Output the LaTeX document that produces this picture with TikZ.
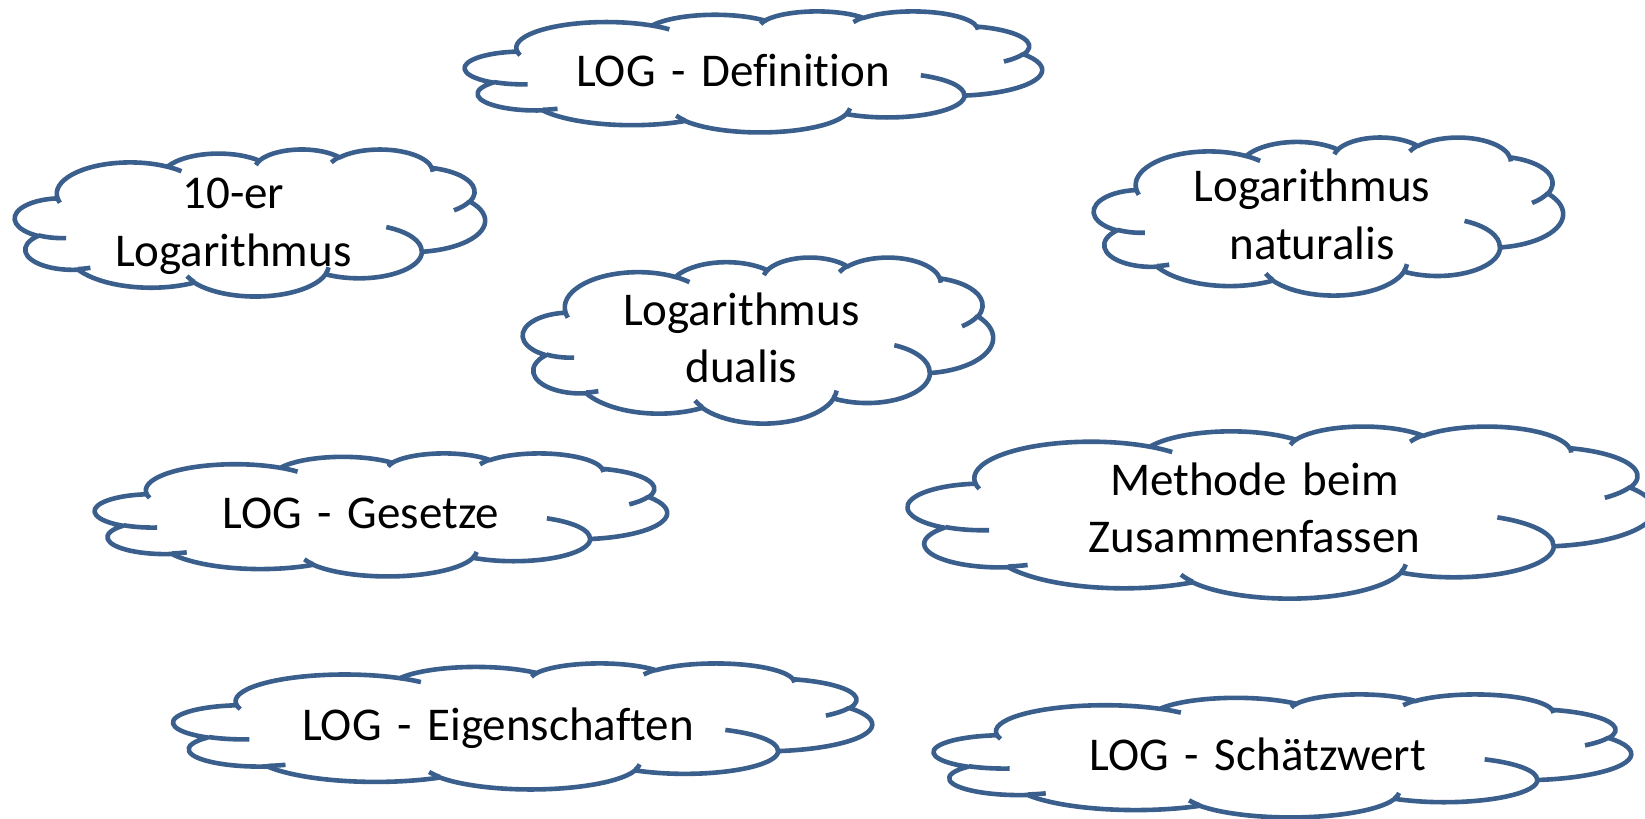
\documentclass[tikz,border=0pt]{standalone}
\usepackage{fontspec}
\setmainfont{Carlito}[Ligatures=NoCommon]
\definecolor{cloudblue}{RGB}{58,95,140}
\newcommand\cloudfont{\fontsize{23.5pt}{28.7pt}\selectfont}

\makeatletter
% Elliptic arc: radii #1,#2 (path units), start angle #3 and sweep #4
% given as visual angles in degrees; converted to parametric angles.
\newcommand\cloudarc[4]{%
  \pgfmathsetmacro\cl@ta{atan2((#1)*sin(#3),(#2)*cos(#3))}%
  \pgfmathsetmacro\cl@tb{atan2((#1)*sin((#3)+(#4)),(#2)*cos((#3)+(#4)))}%
  \pgfmathsetmacro\cl@te{(\cl@ta)+mod((\cl@tb)-(\cl@ta)+720,360)}%
  \pgfpatharcaxes{\cl@ta}{\cl@te}{\pgfpointxy{#1}{0}}{\pgfpointxy{0}{#2}}%
}
\makeatother

% Cloud frame: top-left corner (#1,#2), size #3 x #4; path units 0..432
\newcommand\cloudframe[4]{%
  \pgftransformshift{\pgfpointxy{#1}{#2}}%
  \pgfsetxvec{\pgfpoint{#3*0.5pt/432}{0pt}}%
  \pgfsetyvec{\pgfpoint{0pt}{-#4*0.5pt/432}}%
}

% Closed outline of the cloud
\newcommand\cloudoutline{%
  \pgfpathmoveto{\pgfpointxy{39.00}{143.70}}%
  \cloudarc{67.53}{91.90}{-190.48748}{123.78053}%
  \cloudarc{53.33}{72.67}{-144.10238}{89.94523}%
  \cloudarc{43.65}{59.45}{-145.80792}{99.72302}%
  \cloudarc{48.57}{65.95}{-130.98607}{117.24173}%
  \cloudarc{53.33}{72.73}{-78.70888}{109.02692}%
  \cloudarc{67.75}{92.20}{-46.26725}{130.269}%
  \cloudarc{57.85}{78.67}{0.62502}{114.03333}%
  \cloudarc{67.52}{92.15}{22.4516}{115.17255}%
  \cloudarc{77.20}{105.43}{66.24263}{75.71102}%
  \cloudarc{43.60}{59.18}{-274.94208}{146.73557}%
  \cloudarc{43.45}{59.45}{-246.8285}{152.51885}%
  \pgfpathclose}

% Short inner arcs continuing the bumps
\newcommand\cloudticks{%
  \pgfpathmoveto{\pgfpointxy{46.93}{261.77}}\cloudarc{43.45}{59.45}{86.742}{26.4295}%
  \pgfpathmoveto{\pgfpointxy{69.28}{348.99}}\cloudarc{43.60}{59.18}{73.61047}{11.44747}%
  \pgfpathmoveto{\pgfpointxy{164.78}{390.90}}\cloudarc{67.52}{92.15}{137.62415}{14.0811}%
  \pgfpathmoveto{\pgfpointxy{288.27}{347.51}}\cloudarc{67.52}{92.15}{6.45327}{15.99835}%
  \pgfpathmoveto{\pgfpointxy{341.29}{229.54}}\cloudarc{57.85}{78.67}{-70.29235}{70.91737}%
  \pgfpathmoveto{\pgfpointxy{417.98}{153.54}}\cloudarc{53.33}{72.73}{30.31803}{27.7515}%
  \pgfpathmoveto{\pgfpointxy{383.24}{54.26}}\cloudarc{48.57}{65.95}{-13.74433}{14.85375}%
  \pgfpathmoveto{\pgfpointxy{290.78}{39.52}}\cloudarc{48.57}{65.95}{-149.18145}{18.18418}%
  \pgfpathmoveto{\pgfpointxy{221.41}{47.20}}\cloudarc{43.65}{59.45}{-163.49427}{17.69525}%
  \pgfpathmoveto{\pgfpointxy{140.00}{51.92}}\cloudarc{67.53}{91.90}{-66.70695}{12.31935}%
  \pgfpathmoveto{\pgfpointxy{41.27}{157.89}}\cloudarc{67.53}{91.90}{157.65435}{11.85817}%
}

\newcommand\cloudshape[4]{%
  \path[cloudbody] \pgfextra{{\cloudframe{#1}{#2}{#3}{#4}\cloudoutline}};
  \path[cloudline] \pgfextra{{\cloudframe{#1}{#2}{#3}{#4}\cloudticks}};
}

\begin{document}
\begin{tikzpicture}[x=0.5pt, y=-0.5pt,
  cloudline/.style={draw=cloudblue, line width=2.3pt, line join=round},
  cloudbody/.style={cloudline, fill=white},
  cloudtext/.style={font=\cloudfont, text width=320pt, align=center,
    anchor=base, inner sep=0pt}]
\useasboundingbox (0,0) rectangle (1645,819);
\clip (0,0) rectangle (1645,819);

% cloud outlines: left, top, width, height
\cloudshape{465}{11}{577}{121}
\cloudshape{15}{149}{470}{147}
\cloudshape{1094}{137}{469}{158}
\cloudshape{523}{257}{470}{166}
\cloudshape{95}{453}{572}{123}
\cloudshape{908}{426}{746}{172}
\cloudshape{173.5}{663}{698.5}{126}
\cloudshape{934}{694}{697}{123}

% labels (anchored at the baseline of the first line)
\node[cloudtext] (def)     at (733.0,86.5)  {LOG - Definition};
\node[cloudtext] (zehner)  at (233.3,208.8) {10-er\\Logarithmus};
\node[cloudtext] (nat)     at (1311.9,201.6) {Logarithmus\\naturalis};
\node[cloudtext] (dual)    at (741.3,325.4) {Logarithmus\\dualis};
\node[cloudtext] (gesetze) at (360.7,528.6) {LOG - Gesetze};
\node[cloudtext] (methode) at (1254.5,495.5) {Methode beim\\Zusammenfassen};
\node[cloudtext] (eigen)   at (498.0,740.1) {LOG - Eigenschaften};
\node[cloudtext] (schaetz) at (1257.8,770.6) {LOG - Schätzwert};
\end{tikzpicture}
\end{document}
